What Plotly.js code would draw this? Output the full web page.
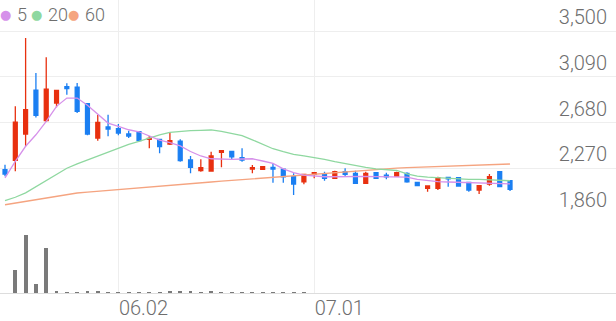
<!DOCTYPE html>
<html>
<head>
<meta charset="utf-8">
<script src="https://cdn.plot.ly/plotly-3.0.1.min.js"></script>
<style>html,body{margin:0;padding:0;background:#fff;}#chart{width:616px;height:321px;}</style>
</head>
<body>
<div id="chart"></div>
<script>
const dates = ['05.16','05.19','05.20','05.21','05.22','05.23','05.26','05.27','05.28','05.29','05.30',
  '06.02','06.04','06.05','06.09','06.10','06.11','06.12','06.13','06.16','06.17','06.18','06.19','06.20',
  '06.23','06.24','06.25','06.26','06.27','06.30','07.01','07.02','07.03','07.04','07.07','07.08','07.09',
  '07.10','07.11','07.14','07.15','07.16','07.17','07.18','07.21','07.22','07.23','07.24','07.25','07.28'];
const openP  = [2257,2341,2577,2971,2696,2855,3001,2998,2848,2541,2640,2624,2577,2597,2529,2529,2487,2514,2344,2248,2245,2413,2422,2364,2263,2260,2278,2263,2194,2149,2216,2216,2180,2239,2225,2135,2230,2209,2200,2225,2144,2090,2090,2189,2185,2144,2075,2129,2239,2158];
const highP  = [2302,2825,3437,3123,3264,2968,3031,3034,2854,2750,2750,2666,2606,2597,2559,2529,2595,2529,2380,2350,2418,2427,2422,2449,2300,2284,2314,2263,2225,2216,2230,2239,2248,2269,2248,2239,2234,2230,2239,2234,2144,2111,2194,2194,2185,2149,2120,2218,2239,2165];
const lowP   = [2198,2243,2467,2726,2684,2816,2929,2765,2565,2517,2556,2565,2541,2508,2449,2404,2478,2329,2225,2239,2239,2278,2344,2329,2225,2254,2140,2140,2030,2126,2180,2158,2174,2200,2129,2129,2176,2171,2194,2140,2114,2060,2075,2105,2105,2060,2039,2114,2105,2066];
const closeP = [2218,2684,2795,2744,2980,2968,2983,2780,2577,2682,2622,2586,2559,2517,2538,2463,2517,2338,2278,2275,2380,2427,2373,2344,2275,2284,2263,2194,2129,2216,2230,2180,2239,2216,2135,2225,2180,2194,2230,2149,2114,2111,2185,2174,2111,2075,2114,2194,2105,2081];
const ma5  = [2183,2332,2467,2570,2690,2825,2899,2899,2834,2750,2675,2646,2615,2597,2559,2523,2499,2470,2420,2380,2355,2350,2350,2353,2355,2335,2314,2265,2230,2209,2200,2194,2194,2196,2200,2198,2195,2194,2194,2190,2171,2160,2150,2147,2145,2140,2138,2136,2135,2130];
const ma20 = [1979,2010,2050,2105,2160,2210,2270,2310,2345,2385,2420,2451,2485,2510,2540,2570,2592,2603,2608,2610,2613,2600,2580,2562,2525,2485,2445,2418,2395,2380,2366,2350,2330,2312,2295,2278,2265,2258,2250,2220,2200,2190,2185,2178,2173,2171,2170,2168,2162,2158];
const ma60 = [1943,1958,1973,1988,2003,2018,2033,2048,2056,2064,2071,2078,2084,2095,2105,2112,2119,2126,2133,2140,2147,2154,2161,2168,2174,2181,2188,2195,2202,2209,2216,2224,2232,2240,2248,2255,2262,2269,2272,2276,2279,2282,2286,2289,2292,2295,2299,2302,2305,2308];
const volume = [20000,2260000,5830000,930000,4500000,200000,100000,100000,230000,200000,130000,70000,70000,100000,100000,100000,170000,170000,170000,100000,170000,100000,70000,100000,70000,70000,100000,100000,130000,70000,50000,50000,50000,50000,50000,50000,50000,50000,50000,50000,50000,50000,50000,50000,50000,50000,50000,50000,50000,50000];
const priceTicks = [1860,2270,2680,3090,3500];
const xTicks = ['06.02','07.01'];
const maNames = ['5','20','60'];
const maColors = ['#d691ea','#8fd8a0','#f5a480'];
const upColor = '#e8300f', downColor = '#1b7ff2';

const maSeries = [ma5, ma20, ma60];
const traces = maSeries.map((s, i) => ({
  type: 'scatter', mode: 'lines', x: dates, y: s, xaxis: 'x', yaxis: 'y',
  line: {color: maColors[i], width: 1.3}, hoverinfo: 'skip', showlegend: false
})).reverse();
traces.push({
  type: 'candlestick', x: dates, open: openP, high: highP, low: lowP, close: closeP,
  xaxis: 'x', yaxis: 'y', showlegend: false,
  increasing: {line: {color: upColor, width: 1.3}, fillcolor: upColor},
  decreasing: {line: {color: downColor, width: 1.3}, fillcolor: downColor},
  whiskerwidth: 0
});
traces.push({
  type: 'bar', x: dates, y: volume, xaxis: 'x', yaxis: 'y2',
  marker: {color: '#7a7a7a'}, width: 0.38, showlegend: false
});

const plotH = 293;
const priceBottom = (plotH - 214) / plotH;

// legend built from the MA names and colours (pixel offsets are style only)
const legendDotX = [5.5, 36, 73.5];
const legendTextX = [15, 45.5, 82.5];
const legendAnn = [];
maNames.forEach((n, i) => {
  legendAnn.push({
    xref: 'paper', yref: 'paper', x: legendDotX[i] / 616, y: 1 - 14 / plotH,
    xanchor: 'center', yanchor: 'middle', showarrow: false, text: '●',
    font: {family: 'DejaVu Sans', size: 13, color: maColors[i]}
  });
  legendAnn.push({
    xref: 'paper', yref: 'paper', x: legendTextX[i] / 616, y: 1 - 14 / plotH,
    xanchor: 'left', yanchor: 'middle', showarrow: false, text: n,
    font: {family: 'Roboto', size: 18, color: '#6e6e6e', weight: 300}
  });
});

const layout = {
  width: 616, height: 321,
  margin: {l: 0, r: 0, t: 0, b: 28},
  paper_bgcolor: '#fff', plot_bgcolor: '#fff',
  showlegend: false,
  boxgap: 0.46,
  bargap: 0,
  xaxis: {
    type: 'category', anchor: 'y2', range: [-0.485, 59.28],
    rangeslider: {visible: false},
    tickmode: 'array', tickvals: xTicks, ticktext: xTicks,
    ticklabelposition: 'outside right', ticks: '',
    ticklabelstandoff: -3,
    showgrid: true, gridcolor: '#eeeeee', gridwidth: 1,
    showline: true, linecolor: '#dddddd', linewidth: 1,
    tickfont: {family: 'Roboto', size: 20, color: '#6e6e6e', weight: 300},
    zeroline: false
  },
  yaxis: {
    domain: [priceBottom, 1], range: [1860, 3778], side: 'right',
    tickmode: 'array', tickvals: priceTicks, tickformat: ',d',
    ticklabelposition: 'inside top', ticks: '',
    ticklabelstandoff: 6,
    showgrid: true, gridcolor: '#eeeeee', gridwidth: 1, zeroline: false,
    tickfont: {family: 'Roboto', size: 20, color: '#6e6e6e', weight: 300},
    fixedrange: true
  },
  yaxis2: {
    domain: [0, priceBottom], range: [0, 7900000], showgrid: false, zeroline: false,
    showticklabels: false, ticks: ''
  },
  annotations: legendAnn
};

Plotly.newPlot('chart', traces, layout, {displayModeBar: false, staticPlot: true});
</script>
</body>
</html>
